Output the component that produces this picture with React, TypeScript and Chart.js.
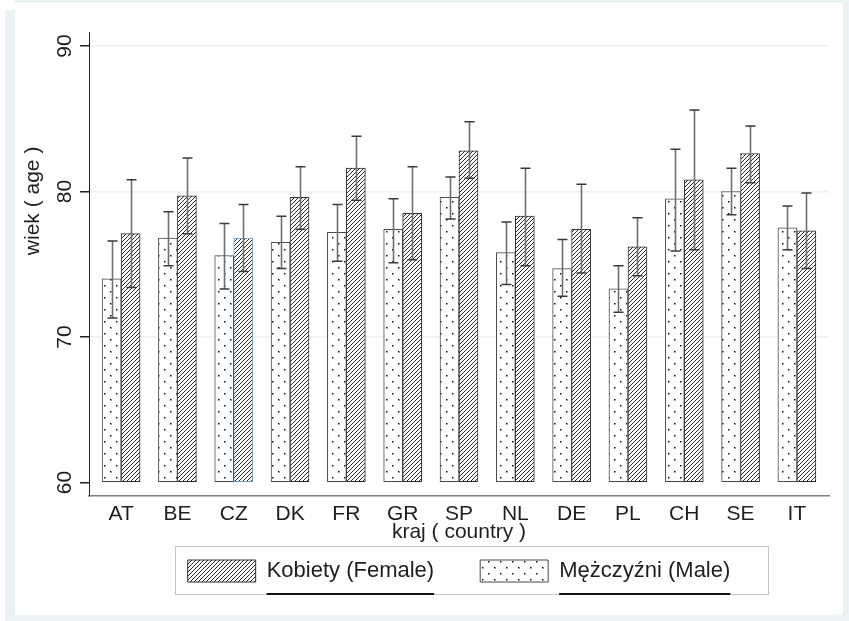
import React, { useEffect, useRef } from 'react';
import { Chart, registerables } from 'chart.js';

Chart.register(...registerables);

const categories = ['AT', 'BE', 'CZ', 'DK', 'FR', 'GR', 'SP', 'NL', 'DE', 'PL', 'CH', 'SE', 'IT'];
const maleMean = [74.0, 76.8, 75.6, 76.5, 77.2, 77.4, 79.6, 75.8, 74.7, 73.3, 79.5, 80.0, 77.5];
const maleLow = [71.3, 74.9, 73.3, 74.7, 75.2, 75.1, 78.1, 73.6, 72.8, 71.7, 75.9, 78.4, 76.0];
const maleHigh = [76.6, 78.6, 77.8, 78.3, 79.1, 79.5, 81.0, 77.9, 76.7, 74.9, 82.9, 81.6, 79.0];
const femaleMean = [77.1, 79.7, 76.8, 79.6, 81.6, 78.5, 82.8, 78.3, 77.4, 76.2, 80.8, 82.6, 77.3];
const femaleLow = [73.4, 77.1, 74.5, 77.4, 79.4, 75.3, 80.9, 74.9, 74.4, 74.2, 76.0, 80.6, 74.7];
const femaleHigh = [80.8, 82.3, 79.1, 81.7, 83.8, 81.7, 84.8, 81.6, 80.5, 78.2, 85.6, 84.5, 79.9];
const yTicks = [60, 70, 80, 90];
const femaleLabel = 'Kobiety (Female)';
const maleLabel = 'Mężczyźni (Male)';
const xTitle = 'kraj ( country )';
const yTitle = 'wiek ( age )';

const FONT = "'Liberation Sans', Arial, Helvetica, sans-serif";
const TEXT = '#1e1e1e';
const GRID = '#eaf2f3';
const LEGEND_FONT = 22;

function makeHatch(): CanvasPattern | string {
  const c = document.createElement('canvas');
  c.width = 4;
  c.height = 4;
  const g = c.getContext('2d');
  if (!g) return '#888';
  g.fillStyle = '#ffffff';
  g.fillRect(0, 0, 4, 4);
  g.strokeStyle = '#2b2b2b';
  g.lineWidth = 1;
  g.beginPath();
  g.moveTo(-1, 5); g.lineTo(5, -1);
  g.moveTo(-1, 1); g.lineTo(1, -1);
  g.moveTo(3, 5); g.lineTo(5, 3);
  g.stroke();
  return g.createPattern(c, 'repeat') || '#888';
}

function makeDots(): CanvasPattern | string {
  const c = document.createElement('canvas');
  c.width = 12;
  c.height = 12;
  const g = c.getContext('2d');
  if (!g) return '#fff';
  g.fillStyle = '#ffffff';
  g.fillRect(0, 0, 12, 12);
  g.fillStyle = '#111';
  g.fillRect(2, 3, 1.5, 1.5);
  g.fillRect(8, 9, 1.5, 1.5);
  return g.createPattern(c, 'repeat') || '#fff';
}

const errorBarPlugin = {
  id: 'errorBars',
  afterDatasetsDraw(chart: any) {
    const ctx = chart.ctx;
    const ys = chart.scales.y;
    chart.data.datasets.forEach((ds: any, d: number) => {
      const meta = chart.getDatasetMeta(d);
      meta.data.forEach((el: any, i: number) => {
        const x = Math.round(el.x) + 0.5;
        const top = ys.getPixelForValue(ds.errHigh[i]);
        const bot = ys.getPixelForValue(ds.errLow[i]);
        ctx.save();
        ctx.strokeStyle = '#6f6f6f';
        ctx.lineWidth = 1.6;
        ctx.beginPath();
        ctx.moveTo(x, top);
        ctx.lineTo(x, bot);
        ctx.stroke();
        ctx.strokeStyle = '#3a3a3a';
        ctx.lineWidth = 1.5;
        ctx.beginPath();
        ctx.moveTo(x - 5, top);
        ctx.lineTo(x + 5, top);
        ctx.moveTo(x - 5, bot);
        ctx.lineTo(x + 5, bot);
        ctx.stroke();
        ctx.restore();
      });
    });
  },
};

const LEGEND_SHIFT = -29;

const decorPlugin = {
  id: 'decor',
  afterLayout(chart: any) {
    const lg = chart.legend;
    if (lg) {
      lg.top += LEGEND_SHIFT;
      lg.bottom += LEGEND_SHIFT;
    }
  },
  afterDraw(chart: any) {
    const ctx = chart.ctx;
    const area = chart.chartArea;
    // y axis title
    ctx.save();
    ctx.font = `21px ${FONT}`;
    ctx.fillStyle = TEXT;
    ctx.textAlign = 'center';
    ctx.textBaseline = 'middle';
    ctx.translate(33.5, area.top + (area.bottom - area.top) * 0.364);
    ctx.rotate(-Math.PI / 2);
    ctx.fillText(yTitle, 0, 0);
    ctx.restore();
    // legend frame and underlines
    const lg = chart.legend;
    const hb = lg && lg.legendHitBoxes;
    if (hb && hb.length === 2) {
      const boxW = lg.options.labels.boxWidth;
      const left = hb[0].left - 13;
      const right = hb[1].left + hb[1].width + 37;
      const top = hb[0].top - 14;
      const bottom = hb[0].top + hb[0].height + 12;
      ctx.save();
      ctx.strokeStyle = '#c4c4c4';
      ctx.lineWidth = 1;
      ctx.strokeRect(Math.round(left) + 0.5, Math.round(top) + 0.5, Math.round(right - left), Math.round(bottom - top));
      ctx.strokeStyle = '#111';
      ctx.lineWidth = 2;
      ctx.beginPath();
      hb.forEach((h: any) => {
        ctx.moveTo(h.left + boxW + LEGEND_FONT / 2, Math.round(bottom));
        ctx.lineTo(h.left + h.width, Math.round(bottom));
      });
      ctx.stroke();
      ctx.restore();
    }
  },
};

export default function App() {
  const ref = useRef<HTMLCanvasElement | null>(null);

  useEffect(() => {
    if (!ref.current) return;
    const hatch = makeHatch();
    const dots = makeDots();
    const chart = new Chart(ref.current, {
      type: 'bar',
      data: {
        datasets: [
          {
            label: maleLabel,
            data: maleMean.map((v, i) => ({ x: i, y: v })),
            errLow: maleLow,
            errHigh: maleHigh,
            backgroundColor: dots,
            borderColor: '#4a4a4a',
            borderWidth: 1,
            borderSkipped: false,
            base: 60,
          } as any,
          {
            label: femaleLabel,
            data: femaleMean.map((v, i) => ({ x: i, y: v })),
            errLow: femaleLow,
            errHigh: femaleHigh,
            backgroundColor: hatch,
            borderColor: (c: any) => (c.dataIndex === 2 ? '#6f9cc4' : '#2e2e2e'),
            borderWidth: 1,
            borderSkipped: false,
            base: 60,
          } as any,
        ],
      },
      options: {
        responsive: false,
        animation: false,
        layout: { padding: { left: 0, right: 20, top: 32, bottom: 0 } },
        datasets: { bar: { barThickness: 19, grouped: true } },
        scales: {
          x: {
            type: 'linear',
            offset: false,
            min: -0.57,
            max: 12.57,
            afterBuildTicks: (s: any) => {
              s.ticks = categories.map((_, i) => ({ value: i }));
            },
            afterFit: (s: any) => {
              s.height = 47;
            },
            ticks: {
              autoSkip: false,
              maxRotation: 0,
              padding: 6,
              color: TEXT,
              font: { family: FONT, size: 21 },
              callback: (v: any) => categories[v] ?? '',
            },
            grid: { display: false, drawTicks: false, offset: false },
            border: { display: true, color: '#808080', width: 1.5 },
            title: {
              display: true,
              text: xTitle,
              color: TEXT,
              font: { family: FONT, size: 21 },
              padding: { top: 0, bottom: -2 },
            },
          },
          y: {
            type: 'linear',
            min: 59.07,
            max: 90.96,
            afterBuildTicks: (s: any) => {
              s.ticks = yTicks.map((v) => ({ value: v }));
            },
            afterFit: (s: any) => {
              s.width = 89;
            },
            ticks: {
              minRotation: 90,
              maxRotation: 90,
              crossAlign: 'center',
              padding: 3,
              color: TEXT,
              font: { family: FONT, size: 21 },
            },
            grid: {
              color: (c: any) => (c.tick && c.tick.value === 60 ? 'rgba(0,0,0,0)' : GRID),
              lineWidth: 1.5,
              drawTicks: true,
              tickLength: 9,
              tickColor: '#222',
              tickWidth: 1.5,
            },
            border: { display: true, color: '#222', width: 1 },
          },
        },
        plugins: {
          tooltip: { enabled: false },
          legend: {
            position: 'bottom',
            fullSize: false,
            reverse: true,
            labels: {
              boxWidth: 68,
              boxHeight: 22,
              padding: 46,
              color: TEXT,
              font: { family: FONT, size: LEGEND_FONT },
            },
          },
        },
      } as any,
      plugins: [errorBarPlugin, decorPlugin],
    });
    return () => chart.destroy();
  }, []);

  return (
    <div style={{ position: 'absolute', left: 0, top: 0, width: 849, height: 621, background: '#ffffff', overflow: 'hidden' }}>
      <div style={{ position: 'absolute', left: 5, top: 0, width: 844, height: 621, background: GRID }} />
      <div style={{ position: 'absolute', left: 5, top: 0, width: 10, height: 10, background: '#ffffff' }} />
      <div style={{ position: 'absolute', left: 15, top: 3, width: 828, height: 612, background: '#ffffff' }} />
      <canvas ref={ref} width={849} height={621} style={{ position: 'absolute', left: 0, top: 0 }} />
    </div>
  );
}
